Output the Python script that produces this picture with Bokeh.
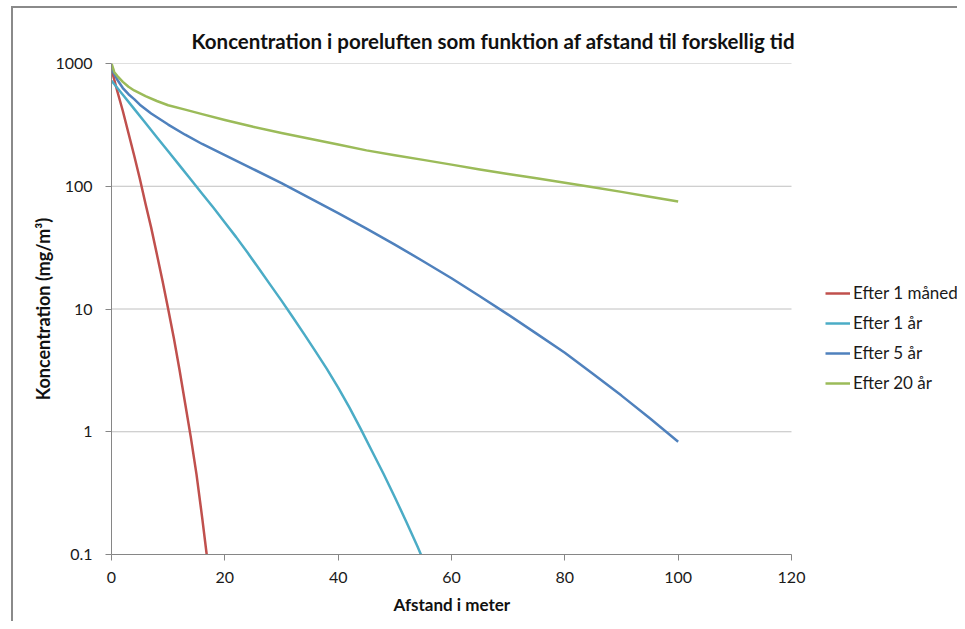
from bokeh.plotting import figure
from bokeh.models import (Range1d, FixedTicker, CustomJSTickFormatter, Legend, LegendItem, Title)
from bokeh.embed import file_html
from bokeh.resources import INLINE

# ---- data ----
x_1m = [0, 1, 2, 3, 4, 5, 6, 7, 8, 9, 10, 11, 12, 13, 14, 15, 16, 16.8]
c_1m = [900, 600, 410, 270, 178, 115, 72, 46, 28, 17, 10, 5.8, 3.2, 1.7, 0.9, 0.45, 0.2, 0.1]

x_1y = [0, 2, 4, 6, 8, 10, 12, 14, 16, 18, 20, 22, 24, 26, 28, 30, 32, 34, 36, 38,
        40, 42, 44, 46, 48, 50, 52, 54, 54.6]
c_1y = [724, 556, 427, 327, 251, 193, 148, 113.5, 87, 66.7, 50.7, 38.5, 28.8, 21.4, 15.8,
        11.7, 8.57, 6.24, 4.52, 3.25, 2.29, 1.57, 1.05, 0.69, 0.455, 0.293, 0.186, 0.116, 0.1]

x_5y = [0, 1, 2, 3, 4, 5, 7, 10, 13, 16, 20, 25, 30, 35, 40, 45, 50, 55, 60, 65, 70,
        75, 80, 85, 90, 95, 100]
c_5y = [900, 741, 631, 562, 513, 462, 392, 318, 263, 221, 179, 138, 106, 80, 60.3, 45.2,
        33.5, 24.5, 17.8, 12.7, 9.0, 6.3, 4.4, 2.95, 1.97, 1.29, 0.83]

x_20y = [0, 0.5, 1, 2, 3, 4, 6, 8, 10, 13, 16, 20, 25, 30, 35, 40, 45, 50, 55, 60, 65,
         70, 75, 80, 85, 90, 95, 100]
c_20y = [1000, 850, 794, 708, 646, 603, 543, 495, 457, 421, 387, 347, 305, 272, 244, 219,
         196, 179, 164, 150, 137, 126, 116, 107, 98, 90, 82, 75]

series_names = ["Efter 1 måned", "Efter 1 år", "Efter 5 år", "Efter 20 år"]
series_colors = ["#C0504D", "#4BACC6", "#4F81BD", "#9BBB59"]
x_ticks = [0, 20, 40, 60, 80, 100, 120]
y_ticks = [0.1, 1, 10, 100, 1000]

title_text = "Koncentration i poreluften som funktion af afstand til forskellig tid"
x_title = "Afstand i meter"
y_title = "Koncentration (mg/m³)"

FONT = "Lato"
X_MIN, X_MAX = x_ticks[0], x_ticks[-1]
# frame is widened to the right edge so that the legend (outside the axis area) is visible
X_VIEW_END = X_MAX * (957 - 111) / (791 - 111)

p = figure(width=957, height=621, output_backend="svg", toolbar_location=None,
           y_axis_type="log", x_range=Range1d(X_MIN, X_VIEW_END),
           y_range=Range1d(y_ticks[0], y_ticks[-1]),
           min_border_left=111, min_border_right=0, min_border_top=63,
           min_border_bottom=67)
p.outline_line_color = None
p.background_fill_color = "white"
p.border_fill_color = None
p.styles = {
    "background": ("linear-gradient(#8a8a8a, #8a8a8a) 11px 6px / 2px 100% no-repeat, "
                   "linear-gradient(#8a8a8a, #8a8a8a) 11px 6px / 100% 2px no-repeat, "
                   "#ffffff"),
}

t = Title(text=title_text, align="left", offset=80, text_font=FONT,
          text_font_size="20.5px", text_font_style="bold", text_color="#111111",
          standoff=22)
p.add_layout(t, "above")

p.xaxis.ticker = FixedTicker(ticks=x_ticks)
p.xaxis.bounds = (X_MIN, X_MAX)
p.yaxis.ticker = FixedTicker(ticks=y_ticks)
p.yaxis.formatter = CustomJSTickFormatter(
    code="return tick < 1 ? tick.toFixed(1) : tick.toFixed(0);")

for ax in (p.xaxis, p.yaxis):
    ax.axis_line_color = "#868686"
    ax.major_tick_line_color = "#868686"
    ax.major_tick_out = 6
    ax.major_tick_in = 0
    ax.minor_tick_line_color = None
    ax.major_label_text_font = FONT
    ax.major_label_text_font_size = "16px"
    ax.major_label_text_color = "#1a1a1a"
    ax.axis_label_text_font = FONT
    ax.axis_label_text_font_style = "bold"
    ax.axis_label_text_color = "#111111"

p.yaxis.axis_label = y_title
p.yaxis.axis_label_text_font_size = "18px"
p.xaxis.major_label_standoff = 11
p.yaxis.major_label_standoff = 13
p.yaxis.axis_label_standoff = -2

xt = Title(text=x_title, align="left", offset=282, text_font=FONT,
           text_font_size="17px", text_font_style="bold", text_color="#111111",
           standoff=13)
p.add_layout(xt, "below")

# horizontal grid lines limited to the axis extent
p.xgrid.grid_line_color = None
p.ygrid.grid_line_color = None
p.segment(x0=[X_MIN] * len(y_ticks), x1=[X_MAX] * len(y_ticks), y0=y_ticks, y1=y_ticks,
          line_color="#c0c0c0", line_width=1)

xs = [x_1m, x_1y, x_5y, x_20y]
ys = [c_1m, c_1y, c_5y, c_20y]
items = []
for xv, yv, name, col in zip(xs, ys, series_names, series_colors):
    r = p.line(xv, yv, line_color=col, line_width=2.5, line_join="round")
    items.append(LegendItem(label=name, renderers=[r]))

legend = Legend(items=items, location=(714, 161), orientation="vertical",
                label_text_font=FONT, label_text_font_size="17px",
                label_text_color="#1a1a1a", glyph_width=25, glyph_height=20,
                label_height=20, label_standoff=3, spacing=9, padding=0, margin=0,
                border_line_color=None, background_fill_alpha=0)
p.add_layout(legend, "center")

open("out.html", "w").write(file_html(p, INLINE))
